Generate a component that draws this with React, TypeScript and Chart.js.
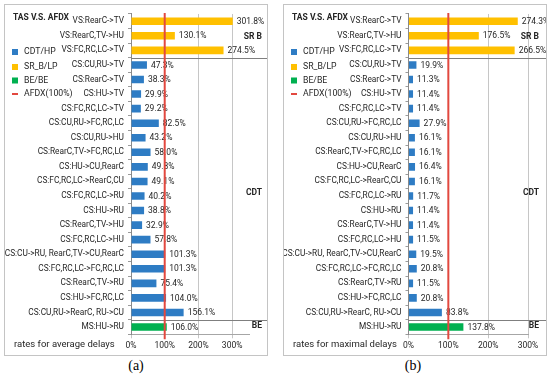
import React, { useEffect, useRef } from "react";
import { Chart, registerables } from "chart.js";

Chart.register(...registerables);

const srbLabels = ["VS:RearC->TV", "VS:RearC,TV->HU", "VS:FC,RC,LC->TV"];
const cdtLabels = [
  "CS:CU,RU->TV",
  "CS:RearC->TV",
  "CS:HU->TV",
  "CS:FC,RC,LC->TV",
  "CS:CU,RU->FC,RC,LC",
  "CS:CU,RU->HU",
  "CS:RearC,TV->FC,RC,LC",
  "CS:HU->CU,RearC",
  "CS:FC,RC,LC->RearC,CU",
  "CS:FC,RC,LC->RU",
  "CS:HU->RU",
  "CS:RearC,TV->HU",
  "CS:FC,RC,LC->HU",
  "CS:CU->RU, RearC,TV->CU,RearC",
  "CS:FC,RC,LC->FC,RC,LC",
  "CS:RearC,TV->RU",
  "CS:HU->FC,RC,LC",
  "CS:CU,RU->RearC, RU->CU",
];
const beLabels = ["MS:HU->RU"];

const srbAvg = [301.8, 130.1, 274.5];
const cdtAvg = [47.3, 38.3, 29.9, 29.2, 82.5, 43.2, 58.0, 49.8, 49.1, 40.2, 38.8, 32.9, 57.8, 101.3, 101.3, 75.4, 104.0, 156.1];
const beAvg = [106.0];

const srbMax = [274.3, 176.5, 266.5];
const cdtMax = [19.9, 11.3, 11.4, 11.4, 27.9, 16.1, 16.1, 16.4, 16.1, 11.7, 11.4, 11.4, 11.5, 19.5, 20.8, 11.5, 20.8, 83.8];
const beMax = [137.8];

const xTicksA = [0, 100, 200, 300];
const xTicksB = [0, 100, 200, 300];

const legendItems = ["CDT/HP", "SR_B/LP", "BE/BE", "AFDX(100%)"];

const BLUE = "#2E7CC4";
const YELLOW = "#FFC000";
const GREEN = "#00B050";
const RED = "#E2483F";
const FONT = "'Roboto', sans-serif";

type PanelProps = {
  left: number;
  srb: number[];
  cdt: number[];
  be: number[];
  max: number;
  ticks: number[];
  axisLeft: number;
  footer: string;
  rightTextX: number;
};

function Panel(p: PanelProps) {
  const ref = useRef<HTMLCanvasElement>(null);
  useEffect(() => {
    const labels = [...srbLabels, ...cdtLabels, ...beLabels];
    const values = [...p.srb, ...p.cdt, ...p.be];
    const colors = [
      ...p.srb.map(() => YELLOW),
      ...p.cdt.map(() => BLUE),
      ...p.be.map(() => GREEN),
    ];
    const W = 262;
    const overlay = {
      id: "overlay",
      afterDraw(chart: any) {
        const ctx = chart.ctx;
        const area = chart.chartArea;
        const x = chart.scales.x;
        ctx.save();
        // separators
        const step = (area.bottom - area.top) / labels.length;
        const seps = [p.srb.length, p.srb.length + p.cdt.length];
        ctx.strokeStyle = "#7f7f7f";
        ctx.lineWidth = 1;
        seps.forEach((k) => {
          const yy = Math.round(area.top + k * step) + 0.5;
          ctx.beginPath();
          ctx.moveTo(area.left, yy);
          ctx.lineTo(W, yy);
          ctx.stroke();
        });
        // value labels
        const meta = chart.getDatasetMeta(0);
        ctx.font = `8.5px ${FONT}`;
        ctx.fillStyle = "#262626";
        ctx.textAlign = "left";
        ctx.textBaseline = "middle";
        meta.data.forEach((bar: any, i: number) => {
          ctx.fillText(values[i].toFixed(1) + "%", bar.x + 4, bar.y + 0.5);
        });
        // red AFDX line
        const rx = x.getPixelForValue(100);
        ctx.strokeStyle = RED;
        ctx.lineWidth = 2;
        ctx.beginPath();
        ctx.moveTo(rx, area.top - 1);
        ctx.lineTo(rx, area.bottom + 5);
        ctx.stroke();
        // group labels
        ctx.fillStyle = "#262626";
        ctx.textAlign = "right";
        ctx.font = `bold 8.5px ${FONT}`;
        ctx.fillText("SR B", p.rightTextX, 32);
        ctx.fillText("CDT", p.rightTextX, 188);
        ctx.fillText("BE", p.rightTextX, 321);
        // title
        ctx.textAlign = "left";
        ctx.font = `bold 8.5px ${FONT}`;
        ctx.fillText("TAS V.S. AFDX", 8, 13);
        // legend
        const ly = [47, 62, 75.5, 89];
        const lc = [BLUE, YELLOW, GREEN, RED];
        ctx.font = `8.7px ${FONT}`;
        legendItems.forEach((t, i) => {
          ctx.fillStyle = lc[i];
          if (i < 3) ctx.fillRect(7, ly[i] - 3, 6, 6);
          else ctx.fillRect(7, ly[i] - 1, 6, 2);
          ctx.fillStyle = "#262626";
          ctx.fillText(t, 19, ly[i]);
        });
        // footer
        ctx.font = `9.5px ${FONT}`;
        ctx.fillText(p.footer, 9, 340);
        ctx.restore();
      },
    };
    const chart = new Chart(ref.current as HTMLCanvasElement, {
      type: "bar",
      data: {
        labels,
        datasets: [
          {
            data: values,
            backgroundColor: colors,
            barPercentage: 0.52,
            categoryPercentage: 1,
          },
        ],
      },
      options: {
        indexAxis: "y",
        animation: false,
        responsive: false,
        maintainAspectRatio: false,
        layout: { padding: { left: 0, right: 18, top: 7.7, bottom: 0 } },
        plugins: { legend: { display: false }, tooltip: { enabled: false } },
        scales: {
          x: {
            type: "linear",
            min: 0,
            max: p.max,
            afterBuildTicks: (s: any) => {
              s.ticks = p.ticks.map((v) => ({ value: v }));
            },
            afterFit: (s: any) => {
              s.height = 20.7;
            },
            ticks: {
              callback: (v: any) => v + "%",
              font: { family: FONT, size: 8.5 },
              color: "#262626",
              padding: 2,
              maxRotation: 0,
            },
            grid: { color: "#c6c6c6", tickLength: 4 },
            border: { color: "#a6a6a6" },
          },
          y: {
            type: "category",
            afterFit: (s: any) => {
              s.width = p.axisLeft;
            },
            ticks: {
              font: { family: FONT, size: 8.3 },
              color: "#262626",
              padding: 4,
              autoSkip: false,
            },
            grid: { display: true, drawOnChartArea: false, offset: true, tickLength: 3, color: "#9a9a9a" },
            border: { color: "#8a8a8a" },
          },
        },
      },
      plugins: [overlay],
    } as any);
    return () => chart.destroy();
  }, []);
  return (
    <div
      style={{
        position: "absolute",
        left: p.left,
        top: 4,
        width: 264,
        height: 352,
        boxSizing: "border-box",
        border: "1px solid #c4c4c4",
        background: "#fff",
      }}
    >
      <canvas ref={ref} width={262} height={350} style={{ display: "block", width: 262, height: 350 }} />
    </div>
  );
}

export default function App() {
  return (
    <div style={{ position: "absolute", left: 0, top: 0, width: 550, height: 378, background: "#fff" }}>
      <Panel left={4} srb={srbAvg} cdt={cdtAvg} be={beAvg} max={350} ticks={xTicksA} axisLeft={126} footer="rates for average delays" rightTextX={257} />
      <Panel left={283} srb={srbMax} cdt={cdtMax} be={beMax} max={300} ticks={xTicksB} axisLeft={124.5} footer="rates for maximal delays" rightTextX={255} />
      <div style={{ position: "absolute", left: 116, top: 358, width: 40, textAlign: "center", fontFamily: "'Liberation Serif', serif", fontSize: 14 }}>(a)</div>
      <div style={{ position: "absolute", left: 393, top: 358, width: 40, textAlign: "center", fontFamily: "'Liberation Serif', serif", fontSize: 14 }}>(b)</div>
    </div>
  );
}
